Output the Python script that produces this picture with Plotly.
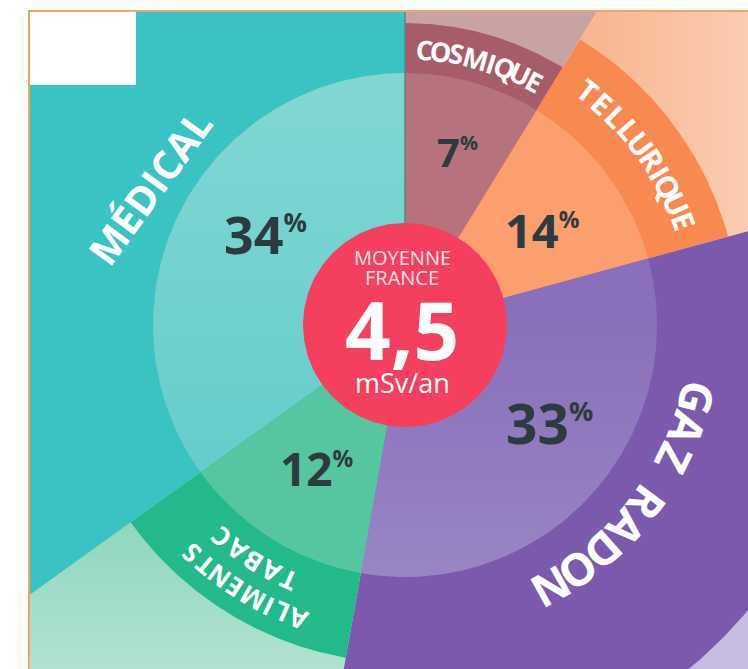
import numpy as np
import plotly.graph_objects as go

# slices, clockwise from 12 o'clock
categories = ["COSMIQUE", "TELLURIQUE", "GAZ RADON", "ALIMENTS TABAC", "MÉDICAL"]
shares = [7, 14, 33, 12, 34]
spans_deg = [31.5, 43.2, 115.4, 44.2, 125.7]      # angular width
band_outer = [302, 335, 446, 338, 1000]            # outer edge of the coloured ring
inner_radius = 252
center_radius = 102

center_title = ["MOYENNE", "FRANCE"]
center_value = "4,5"
center_unit = "mSv/an"

inner_colors = ["#b7737d", "#fa9f6d", "#8d76bd", "#55c6a0", "#6ccfcd"]
band_colors = ["#a65c69", "#f88a51", "#7b5aae", "#24b98b", "#3bc3c3"]
outer_colors = ["#c9a2a4", "#f9bf9e", "#c8bde0", "#98d8c0", "#3bc3c3"]

# soft shading on a few areas: (orientation, start, stop, colour at start, colour at stop)
inner_shade = {2: ("vertical", -252, 0, "#9985c4", "#8a70ba"),
               4: ("vertical", -252, 252, "#5ecac8", "#82d7d4")}
outer_shade = {1: ("horizontal", 150, 343, "#f8b089", "#fbcdb2"),
               3: ("vertical", -344, -120, "#b0e3d0", "#80d0b2")}

# page geometry (px) -> data units are 1px, origin at the pie centre
W, H = 748, 669
CX, CY = 405, 325
LEFT, TOP = 30, 12

fig = go.Figure()


def wedge(r, a0, a1, n=160):
    t = np.radians(np.linspace(a0, a1, n))
    x = np.concatenate([[0], r * np.cos(t), [0]])
    y = np.concatenate([[0], r * np.sin(t), [0]])
    return x, y


starts = 90 - np.concatenate([[0], np.cumsum(spans_deg)[:-1]])
ends = starts - np.array(spans_deg)

layers = [([1000] * 5, outer_colors, outer_shade), (band_outer, band_colors, {}),
          ([inner_radius] * 5, inner_colors, inner_shade)]
for radius_list, colors, shade in layers:
    for i, (a0, a1, r, c) in enumerate(zip(starts, ends, radius_list, colors)):
        x, y = wedge(r, a0, a1)
        kw = dict(fillcolor=c)
        if i in shade:
            o, s0, s1, c0, c1 = shade[i]
            kw = dict(fillgradient=dict(type=o, start=s0, stop=s1,
                                        colorscale=[[0, c0], [1, c1]]))
        fig.add_trace(go.Scatter(x=x, y=y, fill="toself", mode="lines",
                                 line=dict(width=0), hoverinfo="skip", showlegend=False, **kw))

# thin seam between MÉDICAL and COSMIQUE
fig.add_trace(go.Scatter(x=[0, 0], y=[center_radius, 1000], mode="lines",
                         line=dict(color="#4f8888", width=1.5), hoverinfo="skip",
                         showlegend=False))

# centre disc
t = np.radians(np.linspace(0, 360, 240))
fig.add_trace(go.Scatter(x=center_radius * np.cos(t), y=center_radius * np.sin(t),
                         fill="toself", fillcolor="#f43f5e", mode="lines",
                         line=dict(width=0), hoverinfo="skip", showlegend=False))

# percentage labels (r, theta) and sizes
pct_pos = [(181, 73.3), (167, 34.7), (174, -34.0), (168, -121.6), (167, 146.7)]
pct_size = [40, 47, 55, 46, 52]
for v, (r, th), s in zip(shares, pct_pos, pct_size):
    th = np.radians(th)
    fig.add_annotation(
        x=r * np.cos(th), y=r * np.sin(th), showarrow=False,
        text=f"<b>{v}<sup><span style='font-size:{int(s * 0.5)}px'>%</span></sup></b>",
        font=dict(family="Open Sans", size=s, color="#2d3a3f"))


def arc_text(text, r, th_first, th_last, size):
    w = np.array([0.45 if ch in "I " else 0.95 if ch in "MW" else 0.7 for ch in text])
    cum = np.cumsum(w) - w / 2
    frac = (cum - cum[0]) / (cum[-1] - cum[0])
    for ch, f in zip(text, frac):
        if ch == " ":
            continue
        th = th_first + (th_last - th_first) * f
        a = np.radians(th)
        fig.add_annotation(x=r * np.cos(a), y=r * np.sin(a), text=f"<b>{ch}</b>",
                           textangle=90 - th, showarrow=False,
                           font=dict(family="Open Sans", size=size, color="white"))


arc_text("COSMIQUE", 276, 86, 62, 27)
arc_text("TELLURIQUE", 297, 52, 20.5, 30)
arc_text("GAZ RADON", 301, -14, -61, 45)
arc_text("ALIMENTS", 313, -110, -133, 26)
arc_text("TABAC", 281, -114.5, -131, 26)

fig.add_annotation(x=149 - CX, y=CY - 187, text="<b>MÉDICAL</b>", textangle=-54,
                   showarrow=False, font=dict(family="Open Sans", size=40, color="white"))

# centre text
fig.add_annotation(x=-3, y=CY - 257, text=center_title[0], showarrow=False,
                   font=dict(family="Open Sans", size=20, color="#fde3e8"))
fig.add_annotation(x=-3, y=CY - 277, text=center_title[1], showarrow=False,
                   font=dict(family="Open Sans", size=20, color="#fde3e8"))
fig.add_annotation(x=-3, y=CY - 328, text=f"<b>{center_value}</b>", showarrow=False,
                   font=dict(family="Open Sans", size=80, color="white"))
fig.add_annotation(x=-3, y=CY - 382, text=center_unit, showarrow=False,
                   font=dict(family="Open Sans", size=27, color="white"))

# blank corner patch
fig.add_shape(type="rect", xref="paper", yref="paper", x0=0, x1=(136 - LEFT) / (W - LEFT),
              y0=(H - 85) / (H - TOP), y1=1, fillcolor="white", line=dict(width=0), layer="above")

fig.update_xaxes(range=[LEFT - CX, W - CX], visible=True, showticklabels=False, ticks="",
                 showgrid=False, zeroline=False, side="top", showline=True,
                 linecolor="#f7a46a", linewidth=2)
fig.update_yaxes(range=[CY - H, CY - TOP], showticklabels=False, ticks="", showgrid=False,
                 zeroline=False, showline=True, linecolor="#f7a46a", linewidth=2)
fig.update_layout(width=W, height=H, margin=dict(l=LEFT, r=0, t=TOP, b=0, pad=0),
                  paper_bgcolor="white", plot_bgcolor="white", showlegend=False)

fig.write_html("out.html", config={"displayModeBar": False},
               post_script="document.body.style.margin='0';")
